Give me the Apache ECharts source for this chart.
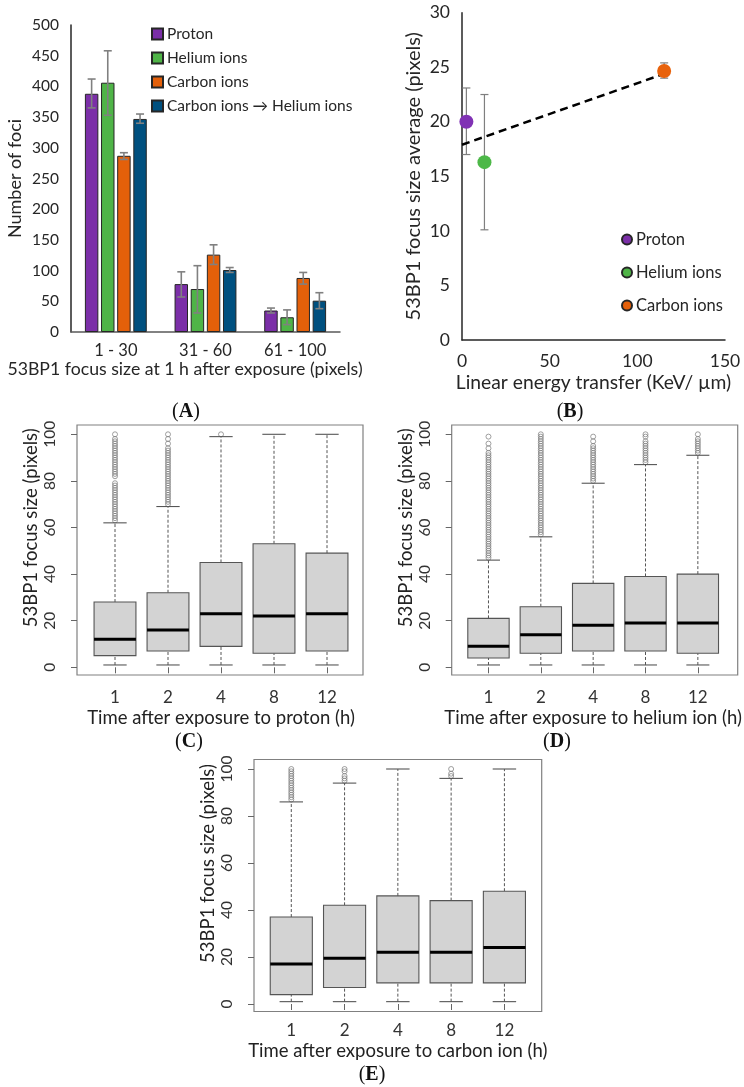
<!DOCTYPE html>
<html>
<head>
<meta charset="utf-8">
<script src="https://cdn.jsdelivr.net/npm/echarts@6/dist/echarts.min.js"></script>
<style>
html,body{margin:0;padding:0;background:#fff;}
#chart{width:744px;height:1087px;}
</style>
</head>
<body>
<div id="chart"></div>
<script>
// ---------- Panel A data ----------
const aCategories = ['1 - 30', '31 - 60', '61 - 100'];
const aSeriesNames = ['Proton', 'Helium ions', 'Carbon ions', 'Carbon ions \u2192 Helium ions'];
const aProton = [388, 78, 35];
const aHelium = [406, 70, 24];
const aCarbon = [287, 126, 88];
const aCarbonHelium = [347, 101, 51];
const aProtonErr = [[365, 412], [57, 98], [31, 39]];
const aHeliumErr = [[353, 458], [31, 108], [12, 36]];
const aCarbonErr = [[281, 292], [110, 142], [78, 97]];
const aCarbonHeliumErr = [[340, 355], [97, 105], [38, 64]];

// ---------- Panel B data ----------
const bNames = ['Proton', 'Helium ions', 'Carbon ions'];
const bLET = [2.5, 12.8, 115.3];
const bMean = [20.0, 16.3, 24.65];
const bErr = [[17.0, 23.1], [10.1, 22.5], [24.0, 25.4]];
const bTrend = [[0, 17.9], [115.3, 24.4]];

// ---------- Panels C, D, E data ----------
const timeLabels = ['1', '2', '4', '8', '12'];
// [lower whisker, Q1, median, Q3, upper whisker]
const cBoxes = [[1, 5, 12, 28, 62], [1, 7, 16, 32, 69], [1, 9, 23, 45, 99], [1, 6, 22, 53, 100], [1, 7, 23, 49, 100]];
const dBoxes = [[1, 4, 9, 21, 46], [1, 6, 14, 26, 56], [1, 7, 18, 36, 79], [1, 7, 19, 39, 87], [1, 6, 19, 40, 91]];
const eBoxes = [[1, 4, 17, 37, 86], [1, 7, 19.5, 42, 94], [1, 9, 22, 46, 100], [1, 9, 22, 44, 96], [1, 9, 24, 48, 100]];

const cOutliers = [
  [63,64,65,66,67,68,69,70,71,72,73,74,75,76,77,78,79,82,83,84,85,86,87,88,89,90,91,92,93,94,95,96,97,98,100],
  [70,71,72,73,74,75,76,77,78,79,80,81,82,83,84,85,86,87,88,89,90,91,92,93,94,96,98,100],
  [100],
  [],
  []
];
const dOutliers = [
  [47,48,49,50,51,52,53,54,55,56,57,58,59,60,61,62,63,64,65,66,67,68,69,70,71,72,73,74,75,76,77,78,79,80,81,82,83,84,85,86,87,88,89,90,91,92,94,96,99],
  [57,58,59,60,61,62,63,64,65,66,67,68,69,70,71,72,73,74,75,76,77,78,79,80,81,82,83,84,85,86,87,88,89,90,91,92,93,94,95,96,97,98,99,100],
  [80,81,82,83,84,85,86,87,88,89,90,91,92,93,94,95,97,99],
  [88,89,90,91,92,93,94,95,96,97,99,100],
  [92,93,94,95,96,97,98,100]
];
const eOutliers = [
  [87,88,89,90,91,92,93,94,95,96,97,98,99,100],
  [95,96,97,99,100],
  [],
  [97,98,100],
  []
];

// ---------- styles ----------
const FONT = 'Lato, "Open Sans", sans-serif';
const TXT = '#333333';
const aColors = ['#7B2FA8', '#4FB447', '#E4600A', '#00507F'];
const bColors = ['#8032B4', '#4DB848', '#E8620C'];

const chart = echarts.init(document.getElementById('chart'), null, {renderer: 'canvas'});

// bar layout ratios for panel A
const catGap = 0.31, barGapR = 0.2, nA = 4;

function renderErrA(params, api) {
  const ci = api.value(0), lo = api.value(1), hi = api.value(2), si = api.value(3);
  const band = api.size([1, 0])[0];
  const groupW = band * (1 - catGap);
  const bw = groupW / (nA + (nA - 1) * barGapR);
  const pLo = api.coord([ci, lo]);
  const pHi = api.coord([ci, hi]);
  const x = pLo[0] - groupW / 2 + bw / 2 + si * bw * (1 + barGapR);
  const cw = 4;
  const st = {stroke: '#808080', lineWidth: 1.6};
  return {type: 'group', children: [
    {type: 'line', shape: {x1: x, y1: pLo[1], x2: x, y2: pHi[1]}, style: st},
    {type: 'line', shape: {x1: x - cw, y1: pLo[1], x2: x + cw, y2: pLo[1]}, style: st},
    {type: 'line', shape: {x1: x - cw, y1: pHi[1], x2: x + cw, y2: pHi[1]}, style: st}
  ]};
}

function renderErrB(params, api) {
  const x = api.value(0), lo = api.value(1), hi = api.value(2);
  const pLo = api.coord([x, lo]);
  const pHi = api.coord([x, hi]);
  const cw = 4;
  const st = {stroke: '#7f7f7f', lineWidth: 1.2};
  return {type: 'group', children: [
    {type: 'line', shape: {x1: pLo[0], y1: pLo[1], x2: pLo[0], y2: pHi[1]}, style: st},
    {type: 'line', shape: {x1: pLo[0] - cw, y1: pLo[1], x2: pLo[0] + cw, y2: pLo[1]}, style: st},
    {type: 'line', shape: {x1: pLo[0] - cw, y1: pHi[1], x2: pLo[0] + cw, y2: pHi[1]}, style: st}
  ]};
}

function renderBox(params, api) {
  const ci = api.value(0);
  const lo = api.coord([ci, api.value(1)]);
  const q1 = api.coord([ci, api.value(2)]);
  const md = api.coord([ci, api.value(3)]);
  const q3 = api.coord([ci, api.value(4)]);
  const hi = api.coord([ci, api.value(5)]);
  const band = api.size([1, 0])[0];
  const bw = band * 0.79, cw = band * 0.44;
  const cx = lo[0];
  const dash = {stroke: '#555', lineWidth: 1, lineDash: [3, 2]};
  const solid = {stroke: '#555', lineWidth: 1.1};
  return {type: 'group', children: [
    {type: 'line', shape: {x1: cx, y1: q3[1], x2: cx, y2: hi[1]}, style: dash},
    {type: 'line', shape: {x1: cx, y1: lo[1], x2: cx, y2: q1[1]}, style: dash},
    {type: 'line', shape: {x1: cx - cw / 2, y1: hi[1], x2: cx + cw / 2, y2: hi[1]}, style: solid},
    {type: 'line', shape: {x1: cx - cw / 2, y1: lo[1], x2: cx + cw / 2, y2: lo[1]}, style: solid},
    {type: 'rect', shape: {x: cx - bw / 2, y: q3[1], width: bw, height: q1[1] - q3[1]}, style: {fill: '#D3D3D3', stroke: '#555', lineWidth: 1.1}},
    {type: 'line', shape: {x1: cx - bw / 2, y1: md[1], x2: cx + bw / 2, y2: md[1]}, style: {stroke: '#000', lineWidth: 3}}
  ]};
}

// ---------- layout ----------
const grids = [
  {left: 71, top: 25, width: 269, height: 307},            // 0 A
  {left: 462, top: 12.7, width: 263, height: 327.3},       // 1 B
  {left: 77, top: 425, width: 286, height: 250, show: true, borderColor: '#808080', borderWidth: 1.2, backgroundColor: 'transparent'},  // 2 C frame
  {left: 88.5, top: 434.3, width: 265, height: 233},       // 3 C inner
  {left: 451.7, top: 425, width: 286, height: 250, show: true, borderColor: '#808080', borderWidth: 1.2, backgroundColor: 'transparent'}, // 4 D frame
  {left: 462.3, top: 434.3, width: 265, height: 233},      // 5 D inner
  {left: 254, top: 759.5, width: 287.7, height: 252, show: true, borderColor: '#808080', borderWidth: 1.2, backgroundColor: 'transparent'}, // 6 E frame
  {left: 264.65, top: 769, width: 266.4, height: 235}      // 7 E inner
];

function hiddenX(g) { return {gridIndex: g, type: 'value', show: false, min: 0, max: 1}; }
function hiddenY(g) { return {gridIndex: g, type: 'value', show: false, min: 0, max: 1}; }

function boxX(g, offset, name, margin, gap) {
  return {
    gridIndex: g, type: 'category', data: timeLabels, offset: offset,
    axisLine: {show: false},
    axisTick: {show: true, alignWithLabel: true, length: 6, lineStyle: {color: '#666'}},
    axisLabel: {margin: margin, fontSize: 17, color: TXT, fontFamily: FONT},
    splitLine: {show: false},
    name: name, nameLocation: 'middle', nameGap: gap,
    nameTextStyle: {fontSize: 18.5, color: '#222', fontFamily: FONT}
  };
}
function boxY(g, offset) {
  return {
    gridIndex: g, type: 'value', min: 0, max: 100, interval: 20, offset: offset,
    axisLine: {show: false},
    axisTick: {show: true, length: 6, lineStyle: {color: '#666'}},
    axisLabel: {rotate: 90, margin: 19, fontSize: 15.5, color: TXT, fontFamily: FONT},
    splitLine: {show: false},
    name: '53BP1 focus size (pixels)', nameLocation: 'middle', nameGap: 36, nameRotate: 90,
    nameTextStyle: {fontSize: 18.5, color: '#222', fontFamily: FONT, padding: [0, 0, 0, 46]}
  };
}

const xAxes = [
  { // A
    gridIndex: 0, type: 'category', data: aCategories,
    axisLine: {lineStyle: {color: '#595959', width: 1.5}},
    axisTick: {show: false},
    axisLabel: {margin: 10, fontSize: 16.5, color: '#262626', fontFamily: FONT},
    name: '53BP1 focus size at 1 h after exposure (pixels)', nameLocation: 'middle', nameGap: 27,
    nameTextStyle: {fontSize: 17.7, color: '#262626', fontFamily: FONT, padding: [0, 41, 0, 0]}
  },
  { // B
    gridIndex: 1, type: 'value', min: 0, max: 150, interval: 50,
    axisLine: {show: true, lineStyle: {color: '#262626', width: 1.5}},
    axisTick: {show: false},
    axisLabel: {margin: 12, fontSize: 17.5, color: '#262626', fontFamily: FONT},
    splitLine: {show: false},
    name: 'Linear energy transfer (KeV/ \u00b5m)', nameLocation: 'middle', nameGap: 33,
    nameTextStyle: {fontSize: 19.3, color: '#262626', fontFamily: FONT}
  },
  hiddenX(2), boxX(3, 675 - 667.3, 'Time after exposure to proton (h)', 14, 34),
  hiddenX(4), boxX(5, 675 - 667.3, 'Time after exposure to helium ion (h)', 14, 34),
  hiddenX(6), boxX(7, 1011.5 - 1004, 'Time after exposure to carbon ion (h)', 11, 30)
];
const yAxes = [
  { // A
    gridIndex: 0, type: 'value', min: 0, max: 500, interval: 50,
    axisLine: {show: true, lineStyle: {color: '#262626', width: 1.5}},
    axisTick: {show: false},
    axisLabel: {margin: 12, fontSize: 15.5, color: '#262626', fontFamily: FONT},
    splitLine: {show: false},
    name: 'Number of foci', nameLocation: 'middle', nameGap: 47, nameRotate: 90,
    nameTextStyle: {fontSize: 18, color: '#262626', fontFamily: FONT}
  },
  { // B
    gridIndex: 1, type: 'value', min: 0, max: 30, interval: 5,
    axisLine: {show: true, lineStyle: {color: '#262626', width: 1.5}},
    axisTick: {show: false},
    axisLabel: {margin: 12, fontSize: 17.5, color: '#262626', fontFamily: FONT},
    splitLine: {show: false},
    name: '53BP1 focus size average (pixels)', nameLocation: 'middle', nameGap: 38, nameRotate: 90,
    nameTextStyle: {fontSize: 20, color: '#262626', fontFamily: FONT}
  },
  hiddenY(2), boxY(3, 88.5 - 77),
  hiddenY(4), boxY(5, 462.3 - 451.7),
  hiddenY(6), boxY(7, 264.65 - 254)
];

// ---------- series ----------
const aValues = [aProton, aHelium, aCarbon, aCarbonHelium];
const aErrs = [aProtonErr, aHeliumErr, aCarbonErr, aCarbonHeliumErr];
const series = [];
aValues.forEach((vals, i) => {
  series.push({
    name: aSeriesNames[i], type: 'bar', xAxisIndex: 0, yAxisIndex: 0,
    data: vals, barCategoryGap: (catGap * 100) + '%', barGap: (barGapR * 100) + '%',
    itemStyle: {color: aColors[i], borderColor: '#262626', borderWidth: 1}
  });
});
const aErrData = [];
aErrs.forEach((errs, si) => errs.forEach((e, ci) => aErrData.push([ci, e[0], e[1], si])));
series.push({
  type: 'custom', xAxisIndex: 0, yAxisIndex: 0, renderItem: renderErrA,
  encode: {x: 0, y: [1, 2]}, data: aErrData, z: 5, silent: true
});

// B
series.push({
  type: 'custom', xAxisIndex: 1, yAxisIndex: 1, renderItem: renderErrB,
  encode: {x: 0, y: [1, 2]}, data: bLET.map((x, i) => [x, bErr[i][0], bErr[i][1]]), z: 1, silent: true
});
series.push({
  type: 'line', xAxisIndex: 1, yAxisIndex: 1, data: bTrend, symbol: 'none', z: 2,
  lineStyle: {color: '#000', width: 2.5, type: [8, 5]}, silent: true
});
bNames.forEach((n, i) => {
  series.push({
    name: n, type: 'scatter', xAxisIndex: 1, yAxisIndex: 1, symbolSize: 14, z: 3,
    data: [[bLET[i], bMean[i]]], itemStyle: {color: bColors[i], opacity: 1}
  });
});

// Box panels
function addBoxPanel(boxes, outliers, axisIdx) {
  const outData = [];
  outliers.forEach((list, ci) => list.forEach(v => outData.push([ci, v])));
  series.push({
    type: 'scatter', xAxisIndex: axisIdx, yAxisIndex: axisIdx, data: outData,
    symbol: 'circle', symbolSize: 5, z: 2, silent: true,
    itemStyle: {color: 'rgba(0,0,0,0)', borderColor: '#7a7a7a', borderWidth: 0.9}
  });
  series.push({
    type: 'custom', xAxisIndex: axisIdx, yAxisIndex: axisIdx, renderItem: renderBox,
    encode: {x: 0, y: [1, 2, 3, 4, 5]}, z: 3, silent: true,
    data: boxes.map((b, ci) => [ci, b[0], b[1], b[2], b[3], b[4]])
  });
}
addBoxPanel(cBoxes, cOutliers, 3);
addBoxPanel(dBoxes, dOutliers, 5);
addBoxPanel(eBoxes, eOutliers, 7);

function caption(letter, x, y) {
  return {
    type: 'text', x: x, y: y, silent: true,
    style: {
      text: '{p|(}{b|' + letter + '}{p|)}', textAlign: 'center', textVerticalAlign: 'middle',
      rich: {
        p: {fontFamily: '"Liberation Serif", serif', fontSize: 20, fill: '#111'},
        b: {fontFamily: '"Liberation Serif", serif', fontSize: 20, fontWeight: 'bold', fill: '#111'}
      }
    }
  };
}

const option = {
  backgroundColor: '#ffffff',
  animation: false,
  textStyle: {fontFamily: FONT},
  grid: grids,
  xAxis: xAxes,
  yAxis: yAxes,
  legend: [
    {
      data: aSeriesNames, orient: 'vertical', left: 146, top: 21,
      itemWidth: 11, itemHeight: 11, itemGap: 8, icon: 'rect',
      textStyle: {fontSize: 15.5, color: '#262626', fontFamily: FONT, padding: [0, 0, 0, -1]}
    },
    {
      data: bNames, orient: 'vertical', left: 616, top: 226,
      itemWidth: 10, itemHeight: 10, itemGap: 16, icon: 'circle',
      textStyle: {fontSize: 16.5, color: '#262626', fontFamily: FONT, padding: [0, 0, 0, -1]}
    }
  ],
  graphic: [
    caption('A', 186, 412),
    caption('B', 570, 412),
    caption('C', 189, 742),
    caption('D', 557, 742),
    caption('E', 372, 1075)
  ],
  series: series
};
chart.setOption(option);
</script>
</body>
</html>
